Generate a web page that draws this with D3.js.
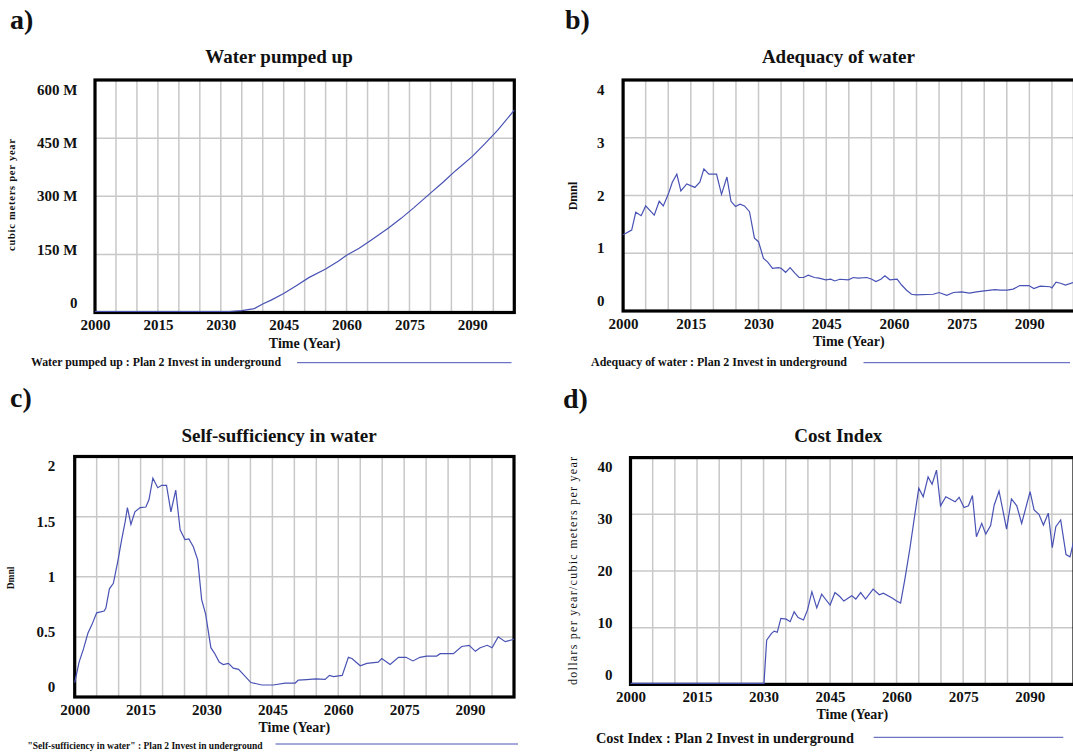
<!DOCTYPE html>
<html>
<head>
<meta charset="utf-8">
<script src="https://cdn.jsdelivr.net/npm/d3@7"></script>
<style>
  body { margin: 0; background: #fff; }
  svg { display: block; font-family: "Liberation Serif", "Times New Roman", serif; }
</style>
</head>
<body>
<svg id="chart" width="1073" height="753"></svg>
<script>
// shared time axis labels
const xTicks = [2000, 2015, 2030, 2045, 2060, 2075, 2090];

// a) Water pumped up (million cubic meters per year)
const pumpYears  = [2000, 2030, 2032, 2035, 2038, 2040, 2042, 2045, 2048, 2051, 2055, 2058, 2060, 2063, 2066, 2070, 2073, 2076, 2080, 2083, 2086, 2090, 2093, 2096, 2100];
const pumpValues = [0, 0, 1, 5, 10, 22, 32, 49, 69, 90, 112, 132, 148, 166, 188, 218, 243, 270, 308, 336, 366, 403, 436, 470, 522];
const pumpTicks  = [0, 150, 300, 450, 600];

// b) Adequacy of water (Dmnl)
const adequacyYears = [2000, 2001.9, 2002.8, 2004, 2005, 2006.9, 2008, 2008.9, 2010, 2010.9, 2011.9, 2012.8, 2014.1, 2015.9, 2017, 2017.9, 2019, 2020.7, 2021.8, 2023, 2023.9, 2024.9, 2025.9, 2026.9, 2028, 2029.1, 2030, 2031.1, 2032, 2033.1, 2034.4, 2035, 2036, 2037, 2038.1, 2039, 2040, 2041, 2042.4, 2043.4, 2044.9, 2046, 2046.9, 2048, 2049.9, 2051, 2052.1, 2054, 2055.1, 2056, 2057.1, 2058, 2059.1, 2060.7, 2061.7, 2062.8, 2063.9, 2064.9, 2068.7, 2070, 2071.7, 2073.2, 2075, 2076.7, 2078.3, 2080, 2082.4, 2083.5, 2085.1, 2086.4, 2087.9, 2089.9, 2091, 2092.4, 2094.6, 2095, 2095.9, 2096.9, 2098, 2100];
const adequacyValues = [1.32, 1.40, 1.71, 1.65, 1.82, 1.66, 1.90, 1.82, 2.02, 2.23, 2.37, 2.08, 2.20, 2.14, 2.23, 2.46, 2.37, 2.37, 2.02, 2.32, 1.90, 1.81, 1.85, 1.82, 1.72, 1.26, 1.20, 0.91, 0.85, 0.74, 0.75, 0.74, 0.67, 0.75, 0.65, 0.58, 0.58, 0.62, 0.58, 0.57, 0.54, 0.55, 0.52, 0.55, 0.54, 0.58, 0.57, 0.58, 0.55, 0.51, 0.55, 0.61, 0.54, 0.55, 0.45, 0.36, 0.29, 0.28, 0.29, 0.32, 0.27, 0.32, 0.33, 0.31, 0.33, 0.35, 0.37, 0.36, 0.36, 0.38, 0.44, 0.44, 0.39, 0.43, 0.42, 0.40, 0.50, 0.48, 0.45, 0.50];
const adequacyTicks = [0, 1, 2, 3, 4];

// c) Self-sufficiency in water (Dmnl)
const selfYears = [2000, 2001, 2002, 2003, 2003.9, 2005, 2006.7, 2007.1, 2007.9, 2008.8, 2009.8, 2010.7, 2011.5, 2012, 2012.8, 2013.7, 2014.9, 2016.2, 2016.9, 2017.8, 2018.9, 2019.8, 2020.9, 2021.9, 2023, 2024, 2025.1, 2026, 2027, 2028, 2028.9, 2029.8, 2031, 2031.9, 2032.9, 2033.8, 2035, 2036.1, 2037.3, 2038.6, 2040.1, 2041.4, 2042.6, 2045.2, 2047.9, 2050.2, 2050.9, 2052.8, 2054.9, 2057, 2058, 2058.9, 2060.9, 2062.3, 2063.1, 2065, 2066.5, 2069.1, 2069.9, 2071.8, 2073.7, 2075.4, 2077, 2078.6, 2080.1, 2082.4, 2083.2, 2086.2, 2088.1, 2089.8, 2091.2, 2092.3, 2093.9, 2095, 2096.4, 2098, 2100];
const selfValues = [0.12, 0.29, 0.40, 0.53, 0.60, 0.70, 0.715, 0.74, 0.90, 0.945, 1.125, 1.31, 1.46, 1.575, 1.435, 1.54, 1.575, 1.58, 1.64, 1.82, 1.74, 1.76, 1.76, 1.54, 1.72, 1.39, 1.31, 1.315, 1.25, 1.14, 0.81, 0.69, 0.41, 0.36, 0.29, 0.27, 0.28, 0.24, 0.23, 0.18, 0.12, 0.11, 0.10, 0.10, 0.115, 0.116, 0.14, 0.144, 0.15, 0.147, 0.18, 0.17, 0.18, 0.33, 0.32, 0.26, 0.28, 0.29, 0.32, 0.27, 0.33, 0.33, 0.30, 0.33, 0.34, 0.34, 0.36, 0.36, 0.42, 0.43, 0.38, 0.41, 0.43, 0.41, 0.50, 0.46, 0.48];
const selfTicks = [0, 0.5, 1, 1.5, 2];

// d) Cost Index (dollars per year / cubic meters per year)
const costYears = [2000, 2030.1, 2030.7, 2031.8, 2032.4, 2033.1, 2033.9, 2035.1, 2036, 2036.9, 2037.8, 2039, 2039.9, 2040.9, 2042, 2043.1, 2045, 2046.1, 2047.2, 2048.1, 2049.9, 2050.8, 2051.9, 2053, 2054.7, 2056.1, 2057, 2058.9, 2060, 2060.9, 2061.9, 2063, 2064.1, 2065, 2066, 2067.1, 2068, 2069, 2069.9, 2071.1, 2073.2, 2074.1, 2075.2, 2076.2, 2077.1, 2078, 2079.2, 2080.1, 2081.2, 2082, 2083.1, 2084.8, 2085.9, 2087.1, 2088.2, 2090.1, 2091, 2092.1, 2093.1, 2094.2, 2095.1, 2095.9, 2097, 2098.2, 2099.1, 2100];
const costValues = [0, 0, 7.8, 9.0, 9.4, 9.2, 11.65, 11.5, 11.06, 12.8, 11.8, 11.36, 13.1, 16.35, 13.5, 15.9, 14.0, 16.2, 15.5, 14.7, 15.65, 15.06, 16.2, 15.06, 16.8, 15.8, 16.1, 15.3, 14.7, 14.35, 18.7, 24, 29.9, 34.6, 33.1, 36.6, 35.3, 37.8, 31.5, 33.1, 32.2, 33.0, 31.2, 31.5, 33.3, 26.05, 28.4, 26.5, 28, 31.6, 34.1, 27.4, 32.7, 31.5, 28.4, 34.0, 30.76, 30.0, 28.1, 30.2, 24.1, 27.8, 29.0, 22.9, 22.5, 25.5];
const costTicks = [0, 10, 20, 30, 40];

const lineColor = "#4852b4";
const svg = d3.select("#chart");

const panels = [
  {
    letter: "a)", lx: 10, ly: 29,
    title: "Water pumped up", tx: 279, ty: 63,
    years: pumpYears, values: pumpValues, ticks: pumpTicks, fmt: d => d === 0 ? "0" : d + " M",
    left: 95, right: 514.3, top: 80, bottom: 312.5, pad: 17.5,
    yTitle: "cubic meters per year", ytx: 15, yty: 195, ytSize: 10.5, ytWeight: "bold", ytLen: 112,
    legend: "Water pumped up : Plan 2 Invest in underground", legX: 31, legY: 366, legSize: 11.5, legLen: 250,
    legLine: [297, 511.5, 362.7]
  },
  {
    letter: "b)", lx: 565, ly: 29,
    title: "Adequacy of water", tx: 838.4, ty: 63,
    years: adequacyYears, values: adequacyValues, ticks: adequacyTicks, fmt: d3.format("d"),
    left: 623.1, right: 1074.5, top: 80, bottom: 311, pad: 18.5,
    yTitle: "Dmnl", ytx: 576.5, yty: 196, ytSize: 12, ytWeight: "bold", ytLen: null,
    legend: "Adequacy of water : Plan 2 Invest in underground", legX: 591, legY: 366, legSize: 11.8, legLen: 256,
    legLine: [863.5, 1070, 362.7]
  },
  {
    letter: "c)", lx: 10, ly: 407,
    title: "Self-sufficiency in water", tx: 279, ty: 441.5,
    years: selfYears, values: selfValues, ticks: selfTicks, fmt: d => String(d),
    left: 74.7, right: 514, top: 456.5, bottom: 697, pad: 19.5,
    yTitle: "Dmnl", ytx: 13.8, yty: 578, ytSize: 9.5, ytWeight: "bold", ytLen: null,
    legend: "\"Self-sufficiency in water\" : Plan 2 Invest in underground", legX: 27.5, legY: 748.5, legSize: 9.5, legLen: 235,
    legLine: [275.5, 518, 744]
  },
  {
    letter: "d)", lx: 563, ly: 408,
    title: "Cost Index", tx: 838.3, ty: 441.5,
    years: costYears, values: costValues, ticks: costTicks, fmt: d3.format("d"),
    left: 630.5, right: 1074, top: 457.6, bottom: 684.4, pad: 18,
    yTitle: "dollars per year/cubic meters per year", ytx: 576.5, yty: 571, ytSize: 12, ytWeight: "normal", ytLen: 228,
    legend: "Cost Index : Plan 2 Invest in underground", legX: 596, legY: 743, legSize: 14, legLen: 258,
    legLine: [873.7, 1063.3, 737.3]
  }
];

function drawPanel(p) {
  const g = svg.append("g");
  const x = d3.scaleLinear().domain([2000, 2100]).range([p.left, p.right]);
  const yMax = p.ticks[p.ticks.length - 1];
  const y = d3.scaleLinear().domain([0, yMax]).range([p.bottom, p.top]);
  // Vensim spreads the value labels a bit inside the frame
  const yLab = d3.scaleLinear().domain([0, yMax]).range([p.bottom - 10, p.top + 9.5]);

  // panel letter
  g.append("text").attr("x", p.lx).attr("y", p.ly)
    .attr("font-size", 28).attr("font-weight", "bold").attr("fill", "#111").text(p.letter);

  // title
  g.append("text").attr("x", p.tx).attr("y", p.ty).attr("text-anchor", "middle")
    .attr("font-size", 19).attr("font-weight", "bold").attr("fill", "#111").text(p.title);

  // grid
  g.append("g").selectAll("line").data(d3.range(2005, 2100, 5)).join("line")
    .attr("x1", d => x(d)).attr("x2", d => x(d))
    .attr("y1", p.top).attr("y2", p.bottom)
    .attr("stroke", "#c8c8c8").attr("stroke-width", 1.5);
  g.append("g").selectAll("line").data(p.ticks.slice(1, -1)).join("line")
    .attr("x1", p.left).attr("x2", p.right)
    .attr("y1", d => y(d)).attr("y2", d => y(d))
    .attr("stroke", "#c8c8c8").attr("stroke-width", 1.5);

  // frame
  g.append("rect").attr("x", p.left).attr("y", p.top)
    .attr("width", p.right - p.left).attr("height", p.bottom - p.top)
    .attr("fill", "none").attr("stroke", "#000").attr("stroke-width", 3.2);

  // series
  const pts = p.years.map((yr, i) => [yr, p.values[i]]);
  g.append("path").datum(pts)
    .attr("d", d3.line().x(d => x(d[0])).y(d => Math.min(y(d[1]), p.bottom - 1)))
    .attr("fill", "none").attr("stroke", lineColor).attr("stroke-width", 1.2);

  // y labels
  const ya = g.append("g").attr("transform", `translate(${p.left},0)`)
    .call(d3.axisLeft(yLab).tickValues(p.ticks).tickFormat(p.fmt).tickSize(0).tickPadding(p.pad));
  ya.select(".domain").remove();
  ya.attr("font-family", null).attr("font-size", null);
  ya.selectAll("text").attr("font-size", 15).attr("font-weight", "bold").attr("fill", "#111");

  // x labels
  const xa = g.append("g").attr("transform", `translate(0,${p.bottom})`)
    .call(d3.axisBottom(x).tickValues(xTicks).tickFormat(d3.format("d")).tickSize(0).tickPadding(7));
  xa.select(".domain").remove();
  xa.attr("font-family", null).attr("font-size", null);
  xa.selectAll("text").attr("font-size", 15).attr("font-weight", "bold").attr("fill", "#111");

  // x title
  g.append("text").attr("x", (p.left + p.right) / 2).attr("y", p.bottom + 35)
    .attr("text-anchor", "middle").attr("font-size", 14).attr("font-weight", "bold")
    .attr("fill", "#111").text("Time (Year)");

  // y title
  const yt = g.append("text").attr("transform", `translate(${p.ytx},${p.yty}) rotate(-90)`)
    .attr("text-anchor", "middle").attr("font-size", p.ytSize).attr("font-weight", p.ytWeight)
    .attr("fill", "#111").text(p.yTitle);
  if (p.ytLen) yt.attr("textLength", p.ytLen).attr("lengthAdjust", "spacing");

  // legend
  g.append("text").attr("x", p.legX).attr("y", p.legY)
    .attr("font-size", p.legSize).attr("font-weight", "bold").attr("fill", "#111")
    .attr("textLength", p.legLen).attr("lengthAdjust", "spacingAndGlyphs")
    .text(p.legend);
  g.append("line").attr("x1", p.legLine[0]).attr("x2", p.legLine[1])
    .attr("y1", p.legLine[2]).attr("y2", p.legLine[2])
    .attr("stroke", lineColor).attr("stroke-width", 1);
}

panels.forEach(drawPanel);
</script>
</body>
</html>
